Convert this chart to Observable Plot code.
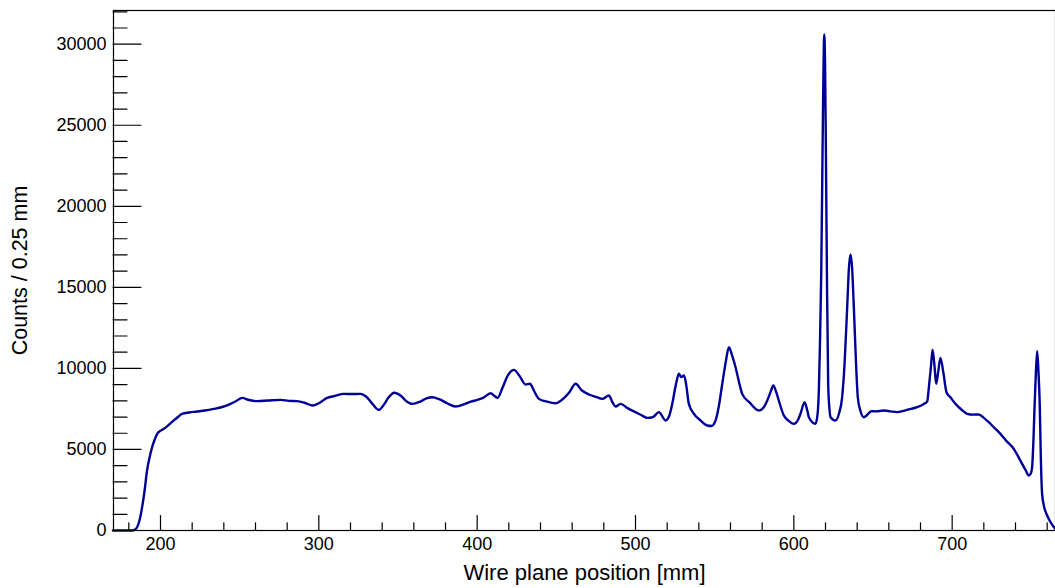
<!DOCTYPE html>
<html>
<head>
<meta charset="utf-8">
<script src="https://cdn.jsdelivr.net/npm/d3@7"></script>
<script src="https://cdn.jsdelivr.net/npm/@observablehq/plot@0.6"></script>
<style>
  html, body { margin: 0; padding: 0; background: #fff; overflow: hidden; }
  #chart svg { display: block; }
</style>
</head>
<body>
<div id="chart"></div>
<script>
// Wire plane position (mm) and counts per 0.25 mm bin
const positions = [
  170, 180, 182, 183.5, 185.2, 186.8, 188.4, 190, 191.5, 193.1, 194.7, 196.3, 197.9, 200, 202.1, 205, 208.4, 211, 213.6, 218,
  223.1, 228, 233.6, 239, 244.2, 248, 251.5, 256, 261, 268, 275.8, 281, 286.2, 291, 296.1, 300, 305.2, 310, 315.7, 321,
  326.3, 330, 334, 337.8, 341, 344, 347.6, 352, 355, 359.1, 364, 368, 371.7, 376, 381, 386.4, 392, 396, 400.1, 404,
  408.5, 411, 412.8, 416, 419, 423.2, 427, 430.6, 433.3, 436, 439, 444, 449.6, 454, 458, 462.2, 466, 470.6, 475, 479,
  483.2, 485.5, 487.4, 490.6, 495, 500, 504, 507.4, 511, 514.8, 519, 521, 523.2, 525.5, 527.4, 528.9, 530.6, 532, 533.7, 536.9,
  541, 545.3, 548, 550.6, 552.5, 554.8, 557, 559, 561, 563.2, 565.5, 567.4, 572, 577.9, 581, 583.2, 585.5, 587, 589, 590.5,
  593.7, 597, 600, 602.5, 604.2, 606.8, 608.5, 609.5, 613.7, 615, 615.8, 616.5, 617.3, 618.2, 618.8, 619.2, 619.7, 620.2, 620.9, 621.7,
  622.5, 623.2, 626.3, 628.5, 630.5, 632, 633.7, 634.8, 635.8, 636.8, 637.9, 639.2, 640.4, 642, 644.2, 646, 648.9, 652, 656.8, 661,
  665.3, 670, 674, 677.9, 682.1, 684.2, 685.3, 686.5, 687.6, 688.8, 689.9, 691.2, 692.6, 694.5, 696.4, 699, 702.1, 706, 709.5, 713,
  716.8, 720, 723.1, 727, 730.5, 734.5, 738.9, 741.5, 744.2, 746.5, 748.4, 749.6, 750.5, 751.3, 752.1, 752.9, 753.7, 754.5, 755.3, 756,
  756.8, 758, 760, 762.5, 765.2, 767, 770
];
const counts = [
  0, 0, 0, 40, 200, 650, 1440, 2500, 3700, 4500, 5140, 5600, 5960, 6150, 6270, 6500, 6790, 7000, 7200, 7280,
  7340, 7400, 7500, 7620, 7810, 8000, 8180, 8050, 7980, 8020, 8060, 8000, 7980, 7880, 7710, 7850, 8180, 8300, 8430, 8420,
  8430, 8250, 7800, 7440, 7750, 8200, 8500, 8300, 8000, 7810, 7950, 8150, 8220, 8100, 7850, 7650, 7800, 7950, 8060, 8200,
  8470, 8300, 8180, 8800, 9500, 9910, 9500, 9010, 9050, 8600, 8120, 7950, 7850, 8100, 8500, 9050, 8650, 8390, 8250, 8120,
  8330, 7900, 7650, 7810, 7550, 7300, 7100, 6950, 7000, 7300, 6790, 7000, 7810, 9000, 9670, 9460, 9560, 9000, 7810, 7200,
  6800, 6480, 6450, 6790, 7600, 9050, 10400, 11310, 10800, 10070, 9100, 8430, 7900, 7400, 7600, 8020, 8600, 8950, 8500, 8020,
  7090, 6750, 6580, 6800, 7200, 7920, 7400, 6990, 6580, 7200, 8640, 11500, 15840, 24000, 29000, 30600, 29000, 24000, 15840, 9000,
  7500, 6990, 6790, 7200, 8220, 10200, 13780, 16200, 17030, 16200, 13780, 10500, 8220, 7400, 6990, 7100, 7360, 7350, 7400, 7350,
  7300, 7400, 7500, 7610, 7810, 7950, 8840, 10000, 11150, 10200, 9050, 9800, 10650, 9700, 8530, 8200, 7810, 7450, 7200, 7150,
  7160, 6950, 6680, 6300, 5960, 5500, 5040, 4600, 4110, 3700, 3390, 3500, 3910, 5500, 7810, 9800, 11060, 9800, 7810, 4500,
  2260, 1500, 925, 450, 100, 20, 0
];

// Axis ticks
const xMajor = [200, 300, 400, 500, 600, 700];
const xMinor = d3.range(180, 761, 20).filter(v => v % 100 !== 0);
const yMajor = [0, 5000, 10000, 15000, 20000, 25000, 30000];
const yMinor = d3.range(1000, 32001, 1000).filter(v => v % 5000 !== 0);

const xDomain = [170, 770];
const yDomain = [0, 32080];

const xTitle = "Wire plane position [mm]";
const yTitle = "Counts / 0.25 mm";

const data = positions.map((p, i) => ({x: p, y: counts[i]}));

const font = "'Liberation Sans', Arial, Helvetica, sans-serif";
const lineShape = {draw(context, l) { context.moveTo(0, 0); context.lineTo(0, -l); }};

const chart = Plot.plot({
  width: 1055,
  height: 588,
  marginLeft: 113,
  marginTop: 10,
  marginBottom: 58,
  marginRight: 0,
  style: {fontFamily: font, background: "#fff", overflow: "hidden"},
  x: {domain: xDomain, range: [112.5, 1062.5]},
  y: {domain: yDomain, range: [530, 10]},
  marks: [
    Plot.line(data, {x: "x", y: "y", stroke: "#000099", strokeWidth: 2.4, curve: "monotone-x"}),
    Plot.frame({stroke: "#000", strokeWidth: 1.2}),
    // Y ticks (inward)
    Plot.vector(yMajor, {x: xDomain[0], y: d => d, length: 28, rotate: 90, anchor: "start", shape: lineShape, stroke: "#000", strokeWidth: 1.2}),
    Plot.vector(yMinor, {x: xDomain[0], y: d => d, length: 14, rotate: 90, anchor: "start", shape: lineShape, stroke: "#000", strokeWidth: 1.2}),
    // X ticks (inward)
    Plot.vector(xMajor, {x: d => d, y: yDomain[0], length: 15, rotate: 0, anchor: "start", shape: lineShape, stroke: "#000", strokeWidth: 1.2}),
    Plot.vector(xMinor, {x: d => d, y: yDomain[0], length: 7.7, rotate: 0, anchor: "start", shape: lineShape, stroke: "#000", strokeWidth: 1.2}),
    // Tick labels
    Plot.axisY({ticks: yMajor, tickSize: 0, tickPadding: 7, tickFormat: d => String(d), fontSize: 18, fill: "#000", label: null}),
    Plot.axisX({ticks: xMajor, tickSize: 0, tickPadding: 7, tickFormat: d => String(d), fontSize: 18, fill: "#000", label: null}),
    // Titles
    Plot.text([xTitle], {frameAnchor: "bottom", dy: 42.5, text: d => d, fontSize: 22, fill: "#000", textAnchor: "middle", lineAnchor: "middle"}),
    Plot.text([yTitle], {frameAnchor: "left", dx: -93, text: d => d, fontSize: 21.5, fill: "#000", rotate: -90, textAnchor: "middle", lineAnchor: "middle"})
  ]
});
document.getElementById("chart").appendChild(chart);
</script>
</body>
</html>
